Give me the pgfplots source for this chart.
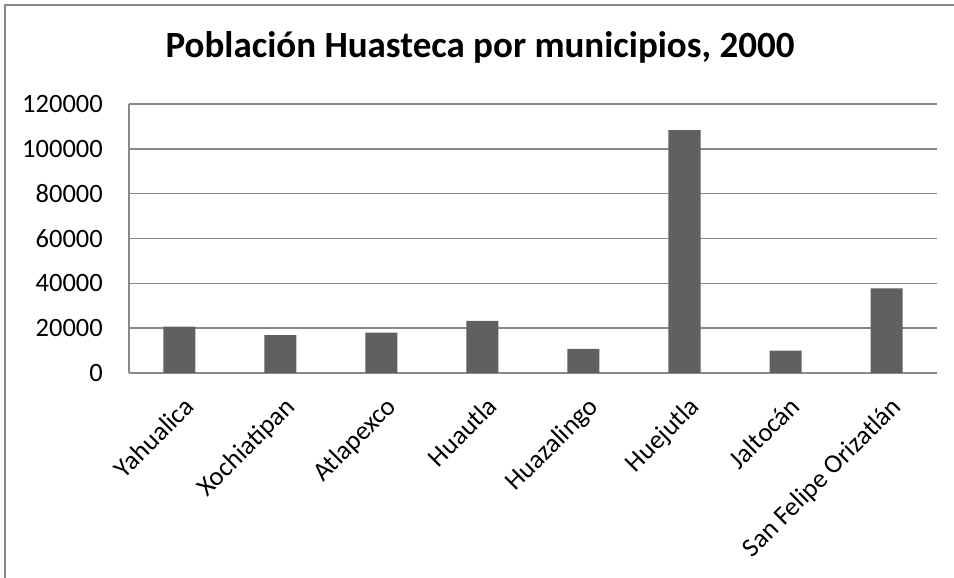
\documentclass[border=0pt]{standalone}
\usepackage{pgfplots}
\pgfplotsset{compat=1.18}
\usepackage{fontspec}
\setmainfont{Carlito}
\definecolor{barc}{HTML}{606060}
\definecolor{gridc}{HTML}{898989}
\begin{document}
\begin{tikzpicture}[x=1pt,y=1pt]
\begin{axis}[
    at={(0,0)}, anchor=south west,
    scale only axis, width=808pt, height=269pt,
    xmin=-0.5, xmax=7.5, ymin=0, ymax=120000,
    ytick={0,20000,...,120000},
    scaled y ticks=false,
    /pgf/number format/assume math mode=true,
    yticklabel style={/pgf/number format/fixed, /pgf/number format/1000 sep={}, inner sep=0pt, xshift=-26pt},
    ymajorgrids, grid style={gridc, line width=1.5pt},
    axis x line*=bottom, axis y line*=left,
    axis line style={gridc, line width=1.5pt},
    major tick length=0pt,
    font=\fontsize{26.5}{31}\selectfont,
    xtick={0,...,7},
    xticklabels={Yahualica, Xochiatipan, Atlapexco, Huautla, Huazalingo, Huejutla, Jaltocán, San Felipe Orizatlán},
    x tick label style={yshift=-22pt, xshift=3pt, rotate=45, anchor=north east, inner sep=0pt},
    ybar, bar width=32pt,
]
\addplot[fill=barc, draw=none] coordinates {
    (0,20700) (1,16900) (2,18000) (3,23200)
    (4,10800) (5,108300) (6,10000) (7,37700)
};
\end{axis}
\node[font=\fontsize{37}{44}\selectfont\bfseries] at (351,326) {Población Huasteca por municipios, 2000};
\draw[gridc, line width=2pt] (835,368) -- (-124,368) -- (-124,-215);
\pgfresetboundingbox
\useasboundingbox (-129,-205) rectangle (825,373);
\end{tikzpicture}
\end{document}
